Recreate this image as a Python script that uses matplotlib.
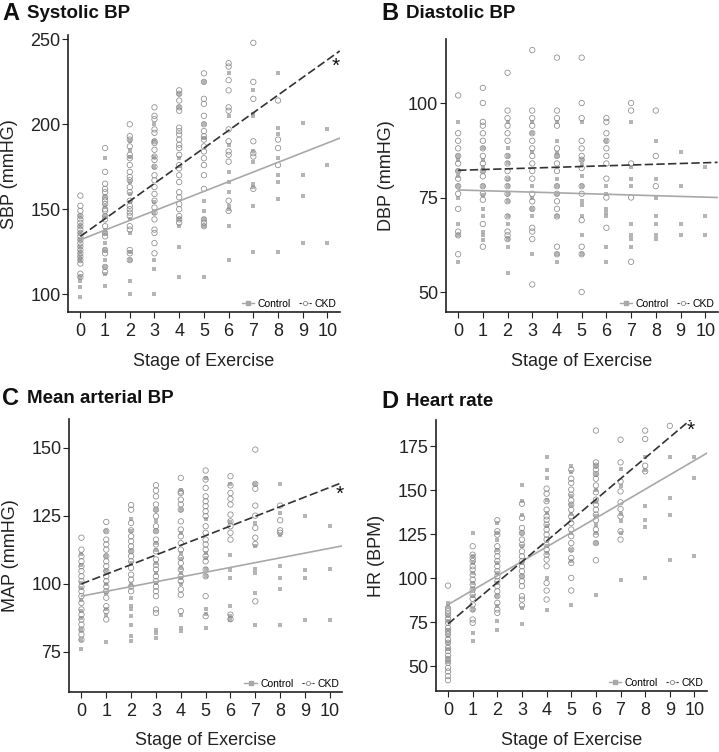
import matplotlib
matplotlib.use("Agg")
import matplotlib.pyplot as plt
from matplotlib.lines import Line2D

plt.rcParams['font.family'] = ['Liberation Sans', 'DejaVu Sans']

stages = list(range(11))

# values per stage (0..10)
sbp_ckd = [
    [158, 152, 149, 146, 144, 142, 140, 138, 136, 134, 132, 130, 128, 126, 124, 122, 120, 118, 112, 110],
    [186, 172, 165, 162, 160, 157, 155, 153, 150, 149, 146, 144, 140, 136, 134, 126, 124, 116, 113],
    [200, 193, 191, 187, 182, 180, 176, 172, 169, 167, 163, 160, 155, 152, 150, 148, 146, 140, 138, 126, 124, 120],
    [210, 205, 203, 197, 195, 190, 189, 185, 181, 179, 175, 170, 167, 163, 159, 155, 151, 148, 144, 138, 136, 130, 124],
    [220, 218, 214, 210, 208, 198, 196, 194, 191, 188, 186, 182, 176, 174, 170, 166, 160, 157, 153, 150, 146, 144, 142],
    [230, 225, 215, 212, 205, 200, 196, 193, 191, 187, 184, 180, 176, 170, 162, 144, 142, 140],
    [236, 234, 226, 220, 210, 208, 197, 190, 184, 182, 178, 155, 149],
    [248, 225, 215, 190, 183, 181, 162],
    [214, 191, 186, 176],
    [],
    [],
]
sbp_ctrl = [
    [146, 140, 136, 132, 128, 125, 122, 120, 110, 108, 104, 98],
    [180, 158, 152, 146, 138, 136, 130, 126, 120, 116, 112, 105],
    [190, 185, 181, 166, 159, 154, 144, 136, 125, 120, 108, 100],
    [200, 190, 181, 175, 154, 148, 120, 115, 100],
    [218, 210, 180, 144, 140, 128, 110],
    [225, 200, 192, 155, 149, 144, 140, 110],
    [230, 205, 188, 172, 166, 160, 152, 150, 140, 120],
    [220, 206, 205, 184, 178, 165, 163, 152, 125],
    [230, 198, 194, 180, 170, 166, 156, 125],
    [201, 170, 158, 130],
    [197, 176, 130],
]

dbp_ckd = [
    [102, 92, 90, 88, 86, 84, 82, 80, 78, 76, 72, 66, 65, 60],
    [104, 100, 95, 94, 92, 90, 88, 86, 84, 82, 80.6, 78, 76, 74.4, 68, 62],
    [108, 98, 96, 94, 92, 90, 86, 84, 82, 80, 78, 76, 74, 70, 66, 65, 64],
    [114, 98, 96, 94, 92, 90, 88, 86, 84, 82, 80, 76, 74, 72, 67, 66, 64, 52],
    [112, 98, 96, 94, 88, 86, 84, 82, 78, 76, 74, 72, 70, 62, 60],
    [112, 100, 96, 90, 88, 86, 85, 82.8, 78, 76, 69, 62, 60, 50],
    [96, 95, 92, 90, 88, 86, 84, 80, 75, 67],
    [100, 98, 84, 75, 58],
    [98, 86, 78],
    [],
    [],
]
dbp_ctrl = [
    [95, 86, 85, 82, 80.6, 78, 75, 68, 65, 58],
    [88, 85, 83, 82, 78, 75.7, 72, 70, 66, 65, 63.8],
    [95, 88, 86, 84, 80, 78, 76, 74, 70, 68, 64, 62, 55],
    [95, 92, 87, 78, 75, 72, 70, 60],
    [95, 90, 86.8, 86, 80, 78, 76, 70, 60, 58],
    [95, 85, 83.7, 80.6, 78, 74, 73, 70, 65, 60],
    [90, 78, 76, 72, 71, 70, 62, 58],
    [95, 83, 80, 78, 68, 65, 64, 62],
    [90, 80, 75, 70, 68, 65, 64],
    [87, 78, 68, 65],
    [83, 70, 65],
]

map_ckd = [
    [117, 112.6, 110.2, 108.3, 106.5, 104.7, 102.8, 101, 99, 97.3, 95.5, 93, 90.6, 88.7, 86.9, 85, 83.2, 81.4, 79.5],
    [122.8, 119.4, 116.3, 114.5, 112.6, 110.2, 108.3, 106.5, 104.7, 102.8, 101, 99, 97.3, 94.9, 91.8, 90, 86.9],
    [129, 127.3, 122.4, 119.7, 117.5, 115.7, 113.8, 112, 110.2, 108.3, 105.9, 103.4, 101.6, 99, 97.3],
    [136.3, 134.3, 132.2, 129.2, 127.3, 124.9, 121.2, 119.4, 116.3, 114.5, 112, 109, 107, 105.3, 102.8, 101, 99, 97.3, 95.5, 90.6, 89.3],
    [139, 134, 133.4, 131, 129.2, 127.3, 123, 120, 117.5, 115, 112.6, 109.6, 107.7, 105.3, 102.8, 101, 98, 96, 90],
    [141.7, 138.4, 135.3, 132.2, 130.4, 128.6, 126.7, 124.9, 121.2, 118.8, 116.3, 114.5, 112.6, 110.2, 108.3, 105.3, 102.8, 95.5, 88.1],
    [139.6, 136.2, 133.4, 131.3, 129.2, 125.5, 123, 121.2, 118.8, 116.3, 88.7, 87],
    [149.4, 136.8, 135, 128.8, 125.1, 120.6, 117, 114.7, 93.6],
    [128.8, 123.4, 119.7, 118.8],
    [],
    [],
]
map_ctrl = [
    [111, 107, 100.4, 98.5, 94, 90, 87.5, 83, 79.5, 76],
    [119.4, 110.2, 104.7, 99.8, 96.7, 90.6, 88.7, 78.6],
    [123.7, 119.4, 112, 107.7, 99.8, 94.9, 91.8, 90.6, 88.1, 85, 80.8, 78.9],
    [127.3, 123, 119.4, 115, 112.6, 107.7, 104, 100.4, 83.2, 82, 80.2],
    [134.7, 127.3, 118.8, 111.4, 109, 105.9, 104, 102.2, 99.8, 88.7, 83.8, 82.6],
    [139, 123.7, 111.4, 109.6, 105.3, 103, 90.6, 89.1, 83.6],
    [136.9, 122.7, 110.8, 105, 102.2, 91.8, 88.1, 86.9],
    [136.9, 122.4, 113.8, 105.5, 104, 96.7, 85],
    [136.8, 126, 118.1, 106.7, 102.2, 98.2, 85],
    [125.1, 105, 102.2, 86.8],
    [121.2, 105.5, 86.8],
]

hr_ckd = [
    [95.8, 83, 81.3, 79.4, 77, 74.6, 71.8, 70, 68, 65.2, 63.3, 60.4, 58.5, 56, 53.8, 51.9, 49, 47, 44.3, 42],
    [118.2, 113.4, 111.5, 109.7, 106.8, 104.9, 102, 99.2, 96.4, 93.6, 90.7, 88.3, 85, 82.2, 76.5, 74.6],
    [133, 126.7, 124.8, 118.2, 115.3, 112.5, 109.7, 106.8, 104, 101.1, 98.3, 95.5, 92.6, 89.8, 86, 82.2, 80.3],
    [142.4, 134.3, 128.6, 125.8, 122, 119, 115.3, 112.5, 109.7, 106.8, 104, 101.1, 98.3, 95.5, 89.8, 87.9, 84.5],
    [151, 148.1, 143.8, 139, 135.2, 133.3, 130.5, 127.7, 124.8, 122, 119, 116.3, 113.4, 110.6, 106.8, 97.3, 93, 87.9],
    [161.7, 156.6, 154.2, 150.4, 147.5, 144.3, 141.9, 139, 135.2, 131.4, 127.7, 123.9, 120, 116.3, 111.5, 108.7, 100.2, 93],
    [184, 165.9, 164, 161.7, 159.3, 156.6, 152.8, 148.9, 144.7, 141.9, 139, 136.2, 133, 127.7, 124.8, 120, 110.2],
    [178.8, 165.9, 155.1, 149.4, 143.2, 139.4, 135.2, 126.7, 122],
    [184, 179.2, 164, 160.8],
    [186.7],
    [],
]
hr_ctrl = [
    [86, 84, 78.4, 75.6, 70.8, 67, 63.3, 59.5, 54.7, 52.3],
    [126, 112.5, 108.7, 103, 97.3, 93.6, 89.8, 82.2, 69, 64.2],
    [131.4, 125.8, 122, 116.3, 108.7, 103, 97.3, 89.8, 84, 75.6, 70.8],
    [152.8, 143.8, 136.2, 125.8, 118.2, 108.7, 101.1, 83, 73.7],
    [168.8, 161.7, 157, 144.7, 137, 129.5, 118.2, 114.4, 100.2, 82.2],
    [164, 160.2, 147, 141.9, 136.7, 133.3, 125.8, 116.3, 109.7, 85],
    [163.6, 158.9, 150.4, 143.2, 135.2, 130.5, 125.8, 120, 90.7],
    [162.1, 152.3, 136.6, 132.4, 125.8, 99.2],
    [168.9, 161.4, 140.9, 133, 129.2, 100.2],
    [168.9, 145.6, 136.2, 110.2],
    [168.9, 157, 112.9],
]

# regression lines (intercept, slope)
sbp_fit = {"ckd": (134, 10.4), "ctrl": (132, 5.7)}
dbp_fit = {"ckd": (82.2, 0.2), "ctrl": (77.0, -0.19)}
map_fit = {"ckd": (100, 3.55), "ctrl": (95.5, 1.76)}
hr_fit = {"ckd": (74, 11.8), "ctrl": (85, 8.2)}

panels = [
    ("A", "Systolic BP", "SBP (mmHG)", sbp_ckd, sbp_ctrl, sbp_fit, (89.4, 252.4), [100, 150, 200, 250], (10.35, 234)),
    ("B", "Diastolic BP", "DBP (mmHG)", dbp_ckd, dbp_ctrl, dbp_fit, (44.7, 116.9), [50, 75, 100], None),
    ("C", "Mean arterial BP", "MAP (mmHG)", map_ckd, map_ctrl, map_fit, (60.3, 160.7), [75, 100, 125, 150], (10.4, 133)),
    ("D", "Heart rate", "HR (BPM)", hr_ckd, hr_ctrl, hr_fit, (35.8, 189.8), [50, 75, 100, 125, 150, 175], (9.83, 184)),
]

rects = [
    [0.0946, 0.585, 0.378, 0.368],
    [0.620, 0.585, 0.378, 0.363],
    [0.096, 0.080, 0.380, 0.363],
    [0.606, 0.081, 0.377, 0.360],
]
title_pos = [(0.003, 0.982), (0.530, 0.982), (0.003, 0.470), (0.530, 0.466)]

ctrl_color = "#a8a8a8"
ckd_edge = "#8a8a8a"
ckd_line = "#333333"

fig = plt.figure(figsize=(7.19, 7.52), dpi=100)

for (letter, title, ylab, ckd, ctrl, fit, ylim, yticks, star), rect, tpos in zip(panels, rects, title_pos):
    ax = fig.add_axes(rect)
    for s in stages:
        if ctrl[s]:
            ax.scatter([s] * len(ctrl[s]), ctrl[s], marker="s", s=9, color=ctrl_color,
                       alpha=0.85, linewidths=0, zorder=2)
        if ckd[s]:
            ax.scatter([s] * len(ckd[s]), ckd[s], marker="o", s=15, facecolors="none",
                       edgecolors=ckd_edge, linewidths=0.55, zorder=3)
    xs = [0, 10.5]
    b, m = fit["ctrl"]
    ax.plot(xs, [b + m * x for x in xs], color=ctrl_color, lw=1.2, zorder=4)
    b, m = fit["ckd"]
    ax.plot(xs, [b + m * x for x in xs], color=ckd_line, lw=1.2, ls=(0, (5, 2)), zorder=5)
    if star:
        ax.text(star[0], star[1], "*", fontsize=15, ha="center", va="center", color="#111111")

    ax.set_xlim(-0.5, 10.5)
    ax.set_ylim(*ylim)
    ax.set_xticks(stages)
    ax.set_yticks(yticks)
    ax.tick_params(labelsize=13, length=4, width=0.8, color="#222222", labelcolor="#222222")
    ax.tick_params(axis="y", pad=1.5)
    ax.tick_params(axis="x", pad=4)
    for side in ("top", "right"):
        ax.spines[side].set_visible(False)
    for side in ("left", "bottom"):
        ax.spines[side].set_linewidth(1.2)
        ax.spines[side].set_color("#222222")
    ax.set_xlabel("Stage of Exercise", fontsize=13, labelpad=9, color="#222222")
    ax.set_ylabel(ylab, fontsize=13, labelpad=9, color="#222222")

    handles = [
        Line2D([], [], color=ctrl_color, marker="s", markersize=3, lw=1),
        Line2D([], [], color=ckd_line, ls=(0, (2, 1)), lw=0.8, marker="o", markersize=3,
               markerfacecolor="white", markeredgecolor=ckd_edge, markeredgewidth=0.6),
    ]
    ax.legend(handles, ["Control", "CKD"], loc="lower right", ncol=2, frameon=False,
              fontsize=7.5, handlelength=1.2, handletextpad=0.3, columnspacing=0.8,
              borderaxespad=0.1, borderpad=0.2)

    fig.text(tpos[0], tpos[1], letter, fontsize=17, fontweight="bold", va="center", ha="left", color="#111111")
    fig.text(tpos[0] + 0.035, tpos[1], title, fontsize=13.5, fontweight="bold", va="center", ha="left", color="#111111")

fig.savefig("out.png", dpi=100, facecolor="white")
